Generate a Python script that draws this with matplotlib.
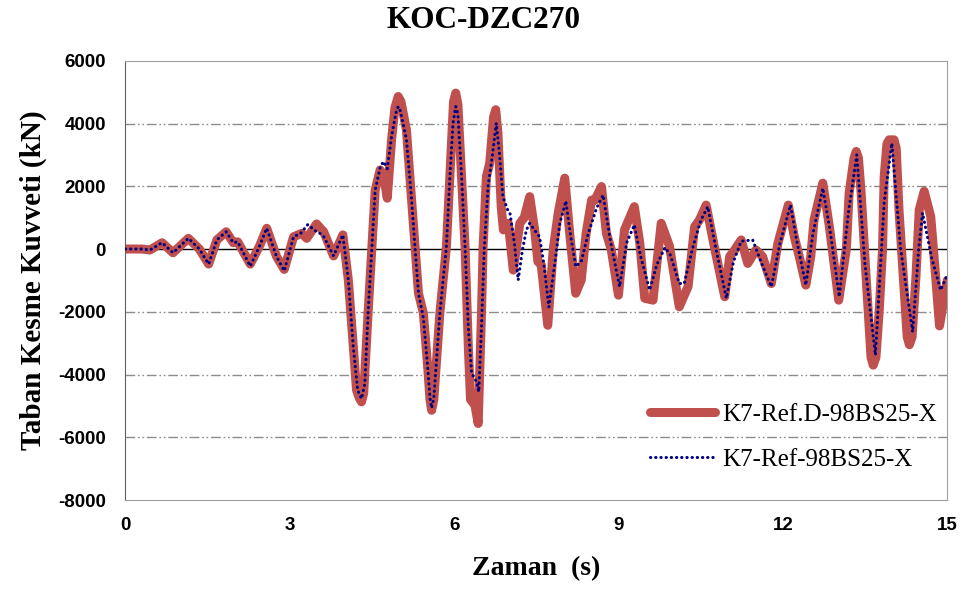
import matplotlib
matplotlib.use("Agg")
import matplotlib.pyplot as plt

# base shear history, damped model (red)
t_red = [0.00, 0.30, 0.45, 0.67, 0.87, 1.15, 1.35, 1.52, 1.67, 1.84, 1.97, 2.05, 2.28, 2.45,
         2.58, 2.76, 2.90, 3.07, 3.22, 3.31, 3.49, 3.62, 3.80, 3.97, 4.07, 4.16, 4.22, 4.27,
         4.31, 4.35, 4.43, 4.50, 4.56, 4.65, 4.72, 4.78, 4.86, 4.92, 4.98, 5.03, 5.13, 5.22,
         5.29, 5.35, 5.44, 5.52, 5.56, 5.59, 5.63, 5.74, 5.86, 5.92, 5.99, 6.03, 6.07, 6.14,
         6.20, 6.26, 6.30, 6.38, 6.44, 6.50, 6.53, 6.59, 6.65, 6.72, 6.76, 6.80, 6.86, 6.90,
         6.99, 7.08, 7.20, 7.28, 7.38, 7.47, 7.53, 7.59, 7.71, 7.81, 7.90, 8.02, 8.11, 8.22,
         8.32, 8.41, 8.51, 8.57, 8.69, 8.78, 8.87, 9.00, 9.11, 9.29, 9.39, 9.48, 9.63, 9.78,
         9.93, 10.11, 10.27, 10.39, 10.48, 10.60, 10.75, 10.94, 11.03, 11.12, 11.24, 11.36,
         11.51, 11.63, 11.79, 11.91, 12.10, 12.21, 12.30, 12.42, 12.51, 12.57, 12.73, 12.85,
         13.02, 13.16, 13.21, 13.30, 13.34, 13.38, 13.43, 13.52, 13.61, 13.65, 13.70, 13.76,
         13.82, 13.85, 13.90, 13.94, 14.03, 14.07, 14.12, 14.18, 14.27, 14.31, 14.36, 14.43,
         14.49, 14.58, 14.70, 14.79, 14.86, 15.00]
v_red = [0, 0, -30, 200, -120, 340, 0, -480, 290, 550, 200, 230, -480, 100,
         660, -240, -650, 390, 500, 340, 800, 550, -220, 450, -990, -3120, -4500, -4750,
         -4870, -4600, -2050, 75, 1880, 2520, 2300, 1620, 3500, 4500, 4860, 4700, 3800, 1670,
         -30, -1410, -2050, -3800, -4800, -5140, -4800, -2050, 75, 2200, 4700, 4970, 4600, 2200,
         75, -3120, -4800, -4980, -5560, -2050, 75, 2310, 2740, 4200, 4440, 3700, 1350, 610,
         820, -670, 820, 1000, 1670, 610, -400, -500, -2430, 0, 1140, 2260, 500, -1410,
         -990, 500, 1560, 1560, 1990, 500, -30, -1470, 610, 1350, 180, -1570, -1630, 820,
         100, -1840, -1200, 710, 930, 1400, 75, -1520, -240, -30, 290, -460,
         -30, -240, -1100, 180, 1400, 390, -240, -1150, -240, 930, 2100, 710,
         -1630, 0, 1780, 2900, 3110, 2900, 1780, -880, -3450, -3700, -3450, -1950,
         0, 2310, 3350, 3480, 3480, 3200, 1250, -350, -2800, -3050, -2800, -880,
         1250, 1840, 1030, -880, -2450, -1000]

# base shear history, reference model (blue)
t_blue = [0.00, 0.30, 0.45, 0.67, 0.87, 1.15, 1.35, 1.52, 1.67, 1.84, 1.97, 2.05, 2.28, 2.45,
          2.58, 2.76, 2.90, 3.07, 3.20, 3.33, 3.45, 3.55, 3.62, 3.80, 3.97, 4.07, 4.16, 4.24,
          4.31, 4.37, 4.43, 4.50, 4.56, 4.65, 4.71, 4.78, 4.86, 4.94, 4.98, 5.02, 5.13, 5.22,
          5.29, 5.35, 5.44, 5.52, 5.56, 5.59, 5.63, 5.74, 5.86, 5.92, 5.98, 6.03, 6.07, 6.14,
          6.20, 6.26, 6.32, 6.41, 6.45, 6.50, 6.55, 6.62, 6.70, 6.77, 6.83, 6.89, 6.99, 7.02,
          7.10, 7.17, 7.25, 7.32, 7.38, 7.47, 7.56, 7.64, 7.73, 7.85, 7.93, 8.04, 8.12, 8.22,
          8.32, 8.45, 8.60, 8.72, 8.85, 9.02, 9.15, 9.29, 9.40, 9.57, 9.70, 9.85, 9.95, 10.11,
          10.20, 10.35, 10.50, 10.63, 10.78, 10.97, 11.10, 11.24, 11.45, 11.60, 11.79, 11.95,
          12.14, 12.25, 12.42, 12.55, 12.73, 12.87, 13.03, 13.20, 13.35, 13.50, 13.69, 13.85,
          13.99, 14.15, 14.37, 14.48, 14.55, 14.72, 14.88, 15.00]
v_blue = [0, 0, -30, 200, -120, 340, 0, -480, 290, 550, 200, 230, -550, 100,
          660, -240, -700, 390, 500, 780, 600, 500, 400, -220, 450, -990, -3120, -4500,
          -4770, -4300, -2050, 75, 1880, 2600, 2790, 2560, 3600, 4350, 4540, 4400, 3500, 1670,
          -30, -1410, -2200, -3800, -4750, -5070, -4750, -2050, 75, 2200, 4000, 4540, 4300, 2200,
          75, -2500, -3960, -4230, -4550, -2500, 0, 2000, 3000, 4010, 3000, 1670, 1190, 1140,
          200, -990, 0, 610, 820, 600, 390, -500, -1850, -300, 820, 1530, 500, -560,
          -400, 500, 1300, 1720, 300, -1200, 200, 770, -200, -1310, -500, 50, -200, -1100,
          -1100, 0, 900, 1350, 0, -1570, -400, 250, 290, -400, -1200, 200,
          1400, 300, -1150, 500, 1940, 500, -1520, 1200, 3000, -500, -3380, 1500,
          3370, 0, -2640, 0, 1150, -300, -1310, -830]

x_ticks = [0, 3, 6, 9, 12, 15]
y_ticks = [-8000, -6000, -4000, -2000, 0, 2000, 4000, 6000]
grid_levels = [-6000, -4000, -2000, 2000, 4000]

plt.rcParams['axes.unicode_minus'] = False

fig = plt.figure(figsize=(9.68, 5.90), dpi=100)
ax = fig.add_axes([0.1295, 0.1525, 0.849, 0.7445])

for g in grid_levels:
    ax.axhline(g, color='#8c8c8c', lw=1.0, linestyle=(0, (7, 2, 1.2, 2, 1.2, 2)), zorder=1)
ax.axhline(0, color='black', lw=1.0, zorder=1)

ax.plot(t_red, v_red, color='#C0504D', lw=6.5, solid_joinstyle='round',
        solid_capstyle='round', label='K7-Ref.D-98BS25-X', zorder=2)
ax.plot(t_blue, v_blue, color='#000080', lw=2.2, linestyle=(0, (0.1, 1.6)),
        dash_capstyle='round', label='K7-Ref-98BS25-X', zorder=3)

ax.set_xlim(0, 15)
ax.set_ylim(-8000, 6000)
ax.set_xticks(x_ticks)
ax.set_yticks(y_ticks)
ax.tick_params(axis='x', length=0, pad=12)
ax.tick_params(axis='y', length=0, pad=14)
for lab in ax.get_xticklabels() + ax.get_yticklabels():
    lab.set_fontfamily('Liberation Sans')
    lab.set_fontweight('bold')
    lab.set_fontsize(13.5)

for side in ['top', 'right', 'bottom']:
    ax.spines[side].set_color('#a0a0a0')
ax.spines['left'].set_color('#606060')

serif = 'Liberation Serif'
ax.set_xlabel('Zaman  (s)', fontfamily=serif, fontweight='bold', fontsize=20, labelpad=16)
ax.set_ylabel('Taban Kesme Kuvveti (kN)', fontfamily=serif, fontweight='bold', fontsize=21,
              labelpad=8)
fig.text(0.5, 0.99, 'KOC-DZC270', ha='center', va='top', fontfamily=serif,
         fontweight='bold', fontsize=22.5)

ax.legend(loc='lower right', bbox_to_anchor=(1.015, 0.015), frameon=False,
          prop={'family': serif, 'size': 18}, handlelength=2.6, labelspacing=0.9,
          handletextpad=0.3)

fig.savefig('out.png', dpi=100)
